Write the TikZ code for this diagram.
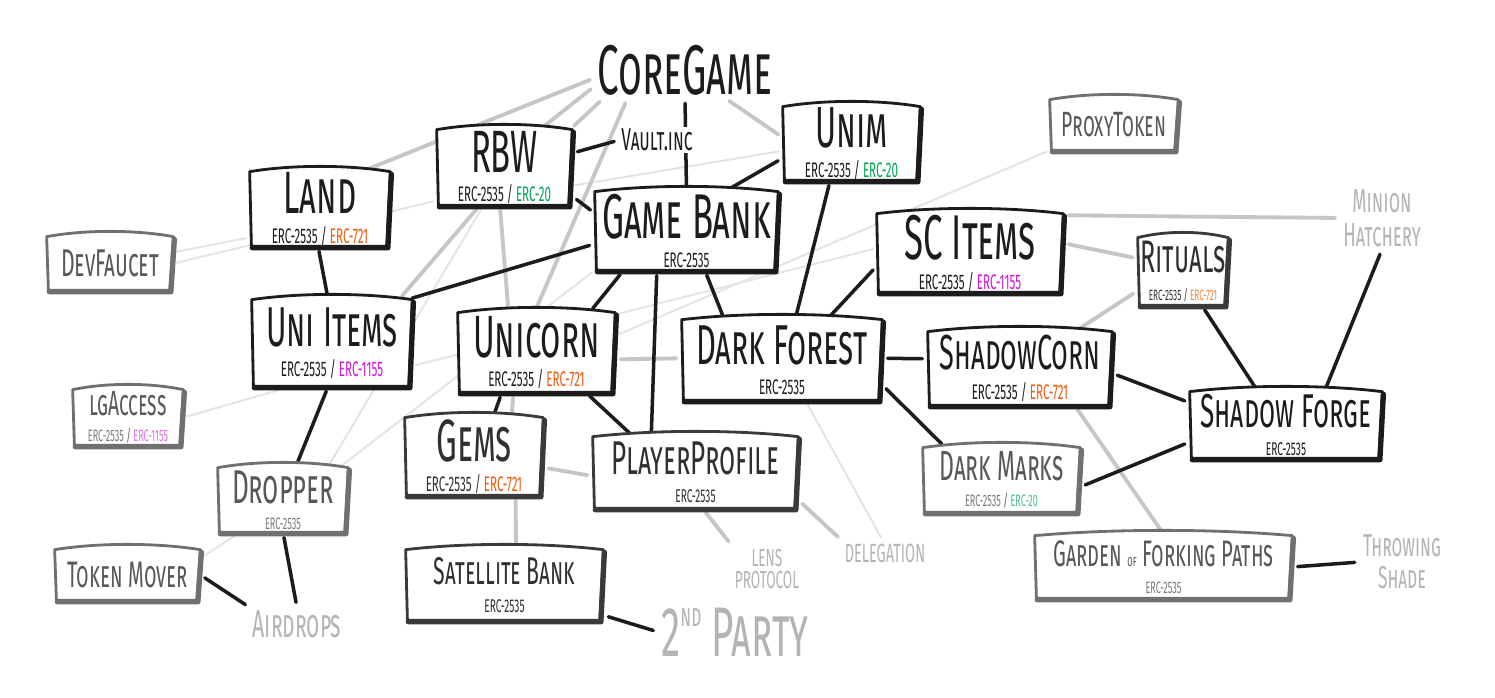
\documentclass[tikz,border=0pt]{standalone}
\usepackage{fontspec}
\newfontfamily\hand[FakeStretch=0.55]{Fira Sans}
\usetikzlibrary{calc}
\pgfdeclarelayer{back}
\pgfdeclarelayer{bg}
\pgfdeclarelayer{mid}
\pgfsetlayers{back,bg,mid,main}
\definecolor{ink}{HTML}{1C1C1C}
\definecolor{inkb}{HTML}{3A3A3A}
\definecolor{inkc}{HTML}{707070}
\definecolor{txtb}{HTML}{303030}
\definecolor{txtc}{HTML}{585858}
\definecolor{subc}{HTML}{7A7A7A}
\definecolor{soft}{HTML}{B4B4B4}
\definecolor{conn}{HTML}{C6C6C6}
\definecolor{faint}{HTML}{E4E4E4}
\definecolor{ercg}{HTML}{00A551}
\definecolor{erco}{HTML}{F05A0C}
\definecolor{ercm}{HTML}{D216D6}
\definecolor{ercgl}{HTML}{4CC08A}
\definecolor{ercml}{HTML}{E070E4}
\definecolor{ercol}{HTML}{F4813A}
\newcommand\T[2]{{\fontsize{#1}{#1}\selectfont\scshape #2}}
\newcommand\Sb[2]{{\fontsize{#1}{#1}\selectfont\upshape #2}}
% \bnode{style}{name}{x1}{y1}{x2}{y2}{text}
\newcommand\bnode[7]{\node[#1, minimum width={(#5-#3)*0.02cm}, minimum height={(#6-#4)*0.02cm}] (#2) at ({(#3+#5)/2},{(#4+#6)/2}) {#7};}
\newcommand\skpath[1]{(#1.north west) .. controls ($(#1.north west)!.3!(#1.north east)+(0,4pt)$) and ($(#1.north west)!.7!(#1.north east)+(0,4pt)$) .. (#1.north east) -- ($(#1.south east)+(-2pt,0)$) -- ($(#1.south west)+(1pt,0)$) -- cycle}
\newcommand\skbox[2]{%
  \fill[white] \skpath{#1};
  \draw[#2, line width=1.6pt, line join=round] \skpath{#1};
  \draw[#2, line width=3pt, line cap=round, line join=round] ($(#1.north east)+(0.6pt,-1.5pt)$) -- ($(#1.south east)+(-1.4pt,-0.8pt)$) -- ($(#1.south west)+(1.5pt,-0.8pt)$);}
\begin{document}
\begin{tikzpicture}[x=0.02cm,y=-0.02cm,font=\hand,
  box/.style={inner sep=0pt, align=center, text=ink},
  boxb/.style={box, text=txtb},
  boxc/.style={box, text=txtc},
  txt/.style={inner sep=1.5pt, align=center},
  blk/.style={draw=ink, line width=2pt, line cap=round, shorten >=3pt, shorten <=3pt},
  gry/.style={draw=conn, line width=2.2pt, line cap=round, shorten >=3pt, shorten <=3pt},
  fnt/.style={draw=faint, line width=1.1pt, line cap=round, shorten >=2pt, shorten <=2pt}]
\useasboundingbox (0,0) rectangle (1495,697);
\begin{pgfonlayer}{back}
\fill[white] (0,0) rectangle (1495,697);
\end{pgfonlayer}

% ---------- plain texts ----------
\node[txt, text=ink] (core) at (685,70) {\T{40}{CoreGame}};
\node[txt, text=ink, fill=white, inner sep=1pt] (vault) at (657,140) {\T{18}{Vault.inc}};
\node[txt, text=soft] (air) at (297,624) {\T{22}{Airdrops}};
\node[txt, text=soft] (party) at (735,632) {\T{40}{2\raisebox{0.42em}{\fontsize{18}{18}\selectfont nd} Party}};
\node[txt, text=soft, font=\hand\fontsize{14}{13}\selectfont] (lens) at (767,569) {LENS\\PROTOCOL};
\node[txt, text=soft, font=\hand\fontsize{15}{15}\selectfont] (deleg) at (885,553) {DELEGATION};
\node[txt, text=soft, font=\hand\fontsize{19}{19}\selectfont\scshape] (minion) at (1382,218) {Minion\\Hatchery};
\node[txt, text=soft, font=\hand\fontsize{18}{18}\selectfont\scshape] (throw) at (1402,562) {Throwing\\Shade};

% ---------- boxes ----------
\bnode{box}{rbw}{437}{130}{572}{205}{\T{34}{RBW}\\[5pt]\Sb{12}{ERC-2535 / \textcolor{ercg}{ERC-20}}}
\bnode{box}{land}{250}{172}{390}{246}{\T{34}{Land}\\[5pt]\Sb{12}{ERC-2535 / \textcolor{erco}{ERC-721}}}
\bnode{boxc}{dev}{47}{237}{173}{290}{\T{22}{DevFaucet}}
\bnode{box}{gb}{595}{192}{778}{270}{\T{36}{Game Bank}\\[5pt]\Sb{12}{ERC-2535}}
\bnode{box}{unim}{783}{107}{920}{180}{\T{33}{Unim}\\[5pt]\Sb{12}{ERC-2535 / \textcolor{ercg}{ERC-20}}}
\bnode{boxc}{proxy}{1050}{100}{1178}{150}{\T{20}{ProxyToken}}
\bnode{box}{sci}{877}{214}{1063}{292}{\T{36}{SC Items}\\[5pt]\Sb{12}{ERC-2535 / \textcolor{ercm}{ERC-1155}}}
\bnode{boxb}{rit}{1138}{238}{1228}{305}{\T{26}{Rituals}\\[4pt]\Sb{8.5}{ERC-2535 / \textcolor{ercol}{ERC-721}}}
\bnode{box}{uni}{252}{300}{412}{386}{\T{32}{Uni Items}\\[5pt]\Sb{12}{ERC-2535 / \textcolor{ercm}{ERC-1155}}}
\bnode{box}{ucorn}{458}{313}{615}{392}{\T{34}{Unicorn}\\[5pt]\Sb{12}{ERC-2535 / \textcolor{erco}{ERC-721}}}
\bnode{box}{df}{682}{320}{882}{400}{\T{32}{Dark Forest}\\[5pt]\Sb{12}{ERC-2535}}
\bnode{box}{sc}{928}{332}{1112}{405}{\T{28}{ShadowCorn}\\[5pt]\Sb{12}{ERC-2535 / \textcolor{erco}{ERC-721}}}
\bnode{box}{sf}{1190}{392}{1382}{458}{\T{27}{Shadow Forge}\\[4pt]\Sb{10.5}{ERC-2535}}
\bnode{boxc}{lg}{73}{390}{183}{445}{\T{20}{lgAccess}\\[3pt]\Sb{9.4}{\textcolor{subc}{ERC-2535} / \textcolor{ercml}{ERC-1155}}}
\bnode{boxb}{gems}{405}{418}{543}{495}{\T{34}{Gems}\\[5pt]\Sb{12}{ERC-2535 / \textcolor{erco}{ERC-721}}}
\bnode{boxb}{pp}{593}{437}{798}{508}{\T{27}{PlayerProfile}\\[4pt]\Sb{10.5}{ERC-2535}}
\bnode{boxc}{dm}{923}{448}{1080}{512}{\T{24}{Dark Marks}\\[3pt]\Sb{9.4}{\textcolor{subc}{ERC-2535} / \textcolor{ercgl}{ERC-20}}}
\bnode{boxc}{drop}{218}{468}{348}{532}{\T{27}{Dropper}\\[3pt]\Sb{9.4}{\textcolor{subc}{ERC-2535}}}
\bnode{boxc}{tm}{55}{550}{200}{600}{\T{21}{Token Mover}}
\bnode{boxb}{sat}{406}{550}{603}{620}{\T{22}{Satellite Bank}\\[4pt]\Sb{10.5}{ERC-2535}}
\bnode{boxc}{garden}{1035}{536}{1292}{598}{\T{21}{Garden {\fontsize{9}{9}\selectfont of} Forking Paths}\\[3pt]\Sb{9.4}{\textcolor{subc}{ERC-2535}}}

\begin{pgfonlayer}{mid}
\skbox{rbw}{ink}\skbox{land}{ink}\skbox{gb}{ink}\skbox{unim}{ink}\skbox{sci}{ink}
\skbox{uni}{ink}\skbox{ucorn}{ink}\skbox{df}{ink}\skbox{sc}{ink}\skbox{sf}{ink}
\skbox{rit}{inkb}\skbox{gems}{inkb}\skbox{pp}{inkb}\skbox{sat}{inkb}
\skbox{dev}{inkc}\skbox{proxy}{inkc}\skbox{lg}{inkc}\skbox{dm}{inkc}\skbox{drop}{inkc}\skbox{tm}{inkc}\skbox{garden}{inkc}
\end{pgfonlayer}

\begin{pgfonlayer}{bg}
% faint connectors
\draw[fnt] (dev.10) -- (land.202);
\draw[fnt] (dev.0) -- (rbw.206);
\draw[fnt] (lg.0) -- (uni.227);
\draw[fnt] (tm.13) -- (drop.217);
\draw[fnt] (rbw.241) -- (drop.36);
\draw[fnt] (gb.south west) -- (drop.30);
\draw[fnt] (uni.-16) -- (sci.177);
\draw[fnt] (rbw.-15) -- (unim.186);
\draw[fnt] (proxy.south west) -- (ucorn.12);
\draw[fnt] (df.-60) -- (deleg.100);
% grey connectors
\draw[gry] (core.185) -- (land.42);
\draw[gry] (core.190) -- (rbw.47);
\draw[gry] (core.199) -- (rbw.30);
\draw[gry] (core.206) -- (ucorn.93);
\draw[gry] (core.-35) -- (unim.175);
\draw[gry] (rbw.237) -- (uni.33);
\draw[gry] (rbw.-97) -- (ucorn.125);
\draw[gry] (ucorn.-5) -- (df.179);
\draw[gry] (ucorn.240) -- (gems.46);
\draw[gry] (gems.-43) -- (sat.72);
\draw[gry] (gems.-9) -- (pp.182);
\draw[gry] (pp.-79) -- (lens.north west);
\draw[gry] (pp.-15) -- (deleg.north west);
\draw[gry] (sc.-34) -- (garden.88);
\draw[gry] (rit.203) -- (sc.34);
\draw[gry] (sci.6) -- (rit.164);
\draw[gry] (sci.22) -- (minion.west);
% black connectors
\draw[blk] (core.south) -- (gb.north);
\draw[blk] (rbw.12) -- (vault.west);
\draw[blk] (gb.46) -- (unim.192);
\draw[blk] (rbw.-23) -- (gb.169);
\draw[blk] (gb.188) -- (uni.30);
\draw[blk] (gb.212) -- (ucorn.37);
\draw[blk] (gb.-127) -- (pp.141);
\draw[blk] (gb.-65) -- (df.145);
\draw[blk] (unim.-120) -- (df.72);
\draw[blk] (sci.188) -- (df.42);
\draw[blk] (land.-93) -- (uni.95);
\draw[blk] (df.1) -- (sc.174);
\draw[blk] (df.-14) -- (dm.150);
\draw[blk] (sc.-3) -- (sf.167);
\draw[blk] (rit.-61) -- (sf.130);
\draw[blk] (minion.south) -- (sf.41);
\draw[blk] (dm.-5) -- (sf.190);
\draw[blk] (ucorn.229) -- (gems.64);
\draw[blk] (ucorn.-39) -- (pp.150);
\draw[blk] (uni.-95) -- (drop.69);
\draw[blk] (drop.south) -- (air.north);
\draw[blk] (tm.east) -- (air.north west);
\draw[blk] (sat.-17) -- (party.west);
\draw[blk] (garden.east) -- (throw.west);
\end{pgfonlayer}
\end{tikzpicture}
\end{document}
